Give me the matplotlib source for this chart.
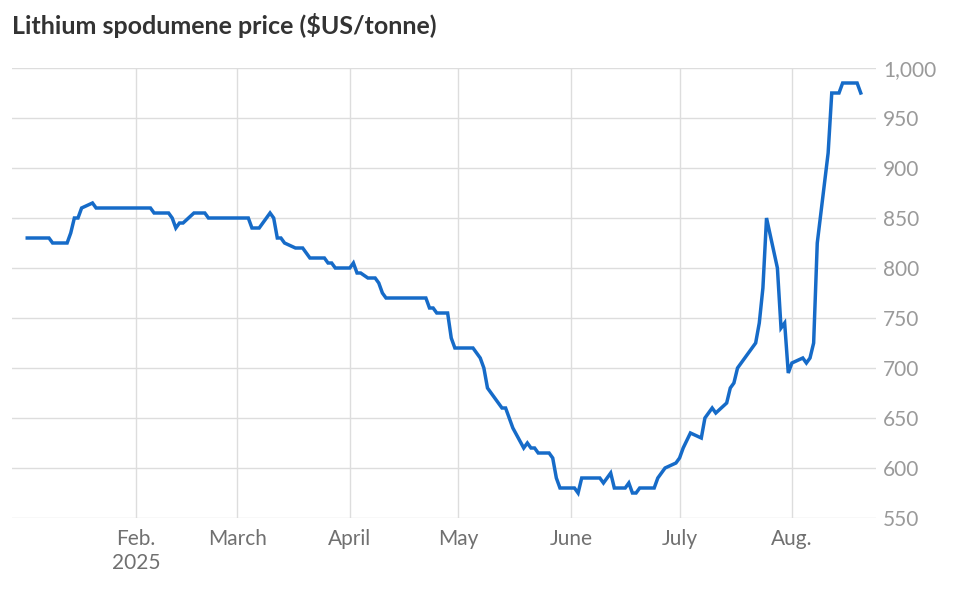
import pandas as pd
import matplotlib.pyplot as plt
import matplotlib.ticker as mticker

# Price points (dates where the line turns)
dates = [
    "2025-01-02", "2025-01-08", "2025-01-09", "2025-01-13", "2025-01-14", "2025-01-15",
    "2025-01-16", "2025-01-17", "2025-01-20", "2025-01-21", "2025-02-05", "2025-02-06",
    "2025-02-10", "2025-02-11", "2025-02-12", "2025-02-13", "2025-02-14", "2025-02-17",
    "2025-02-20", "2025-02-21", "2025-03-04", "2025-03-05", "2025-03-07", "2025-03-10",
    "2025-03-11", "2025-03-12", "2025-03-13", "2025-03-14", "2025-03-17", "2025-03-19",
    "2025-03-21", "2025-03-25", "2025-03-26", "2025-03-27", "2025-03-28", "2025-04-01",
    "2025-04-02", "2025-04-03", "2025-04-04", "2025-04-06", "2025-04-08", "2025-04-09",
    "2025-04-10", "2025-04-11", "2025-04-22", "2025-04-23", "2025-04-24", "2025-04-25",
    "2025-04-28", "2025-04-29", "2025-04-30", "2025-05-05", "2025-05-06", "2025-05-07",
    "2025-05-08", "2025-05-09", "2025-05-13", "2025-05-14", "2025-05-16", "2025-05-19",
    "2025-05-20", "2025-05-21", "2025-05-22", "2025-05-23", "2025-05-26", "2025-05-27",
    "2025-05-28", "2025-05-29", "2025-06-02", "2025-06-03", "2025-06-04", "2025-06-09",
    "2025-06-10", "2025-06-12", "2025-06-13", "2025-06-16", "2025-06-17", "2025-06-18",
    "2025-06-19", "2025-06-20", "2025-06-24", "2025-06-25", "2025-06-27", "2025-06-30",
    "2025-07-01", "2025-07-02", "2025-07-04", "2025-07-07", "2025-07-08", "2025-07-10",
    "2025-07-11", "2025-07-14", "2025-07-15", "2025-07-16", "2025-07-17", "2025-07-22",
    "2025-07-23", "2025-07-24", "2025-07-25", "2025-07-28", "2025-07-29", "2025-07-30",
    "2025-07-31", "2025-08-01", "2025-08-04", "2025-08-05", "2025-08-06", "2025-08-07",
    "2025-08-08", "2025-08-11", "2025-08-12", "2025-08-14", "2025-08-15", "2025-08-19",
    "2025-08-20",
]
prices = [
    830, 830, 825, 825, 835, 850,
    850, 860, 865, 860, 860, 855,
    855, 850, 840, 845, 845, 855,
    855, 850, 850, 840, 840, 855,
    850, 830, 830, 825, 820, 820,
    810, 810, 805, 805, 800, 800,
    805, 795, 795, 790, 790, 785,
    775, 770, 770, 760, 760, 755,
    755, 730, 720, 720, 715, 710,
    700, 680, 660, 660, 640, 620,
    625, 620, 620, 615, 615, 610,
    590, 580, 580, 575, 590, 590,
    585, 595, 580, 580, 585, 575,
    575, 580, 580, 590, 600, 605,
    610, 620, 635, 630, 650, 660,
    655, 665, 680, 685, 700, 725,
    745, 780, 850, 800, 740, 745,
    695, 705, 710, 705, 710, 725,
    825, 915, 975, 975, 985, 985,
    975,
]

# Axis ticks and labels
month_ticks = ["2025-02-01", "2025-03-01", "2025-04-01", "2025-05-01",
               "2025-06-01", "2025-07-01", "2025-08-01"]
month_labels = ["Feb.\n2025", "March", "April", "May", "June", "July", "Aug."]
y_ticks = [550, 600, 650, 700, 750, 800, 850, 900, 950, 1000]

price = pd.Series(prices, index=pd.to_datetime(dates))

plt.rcParams['font.family'] = ['Lato', 'DejaVu Sans']

fig = plt.figure(figsize=(9.58, 6.01), dpi=100)
ax = fig.add_axes([12 / 958, 83 / 601, 864 / 958, 450 / 601])

# the price line
ax.plot(price.index, price.values, color='#166bc8', linewidth=2.5,
        solid_joinstyle='miter', clip_on=False, zorder=3)

# limits
ax.set_xlim(pd.Timestamp("2024-12-28 19:00"), pd.Timestamp("2025-08-24 05:00"))
ax.set_ylim(550, 1000)

# y axis on the right
ax.yaxis.tick_right()
ax.set_yticks(y_ticks)
ax.yaxis.set_major_formatter(mticker.FuncFormatter(lambda v, p: f"{int(v):,}"))
ax.tick_params(axis='y', length=0, pad=5, labelsize=15, labelcolor='#9a9a9a')
for lbl in ax.get_yticklabels():
    lbl.set_va('center_baseline')

# x axis month ticks
ax.set_xticks(pd.to_datetime(month_ticks))
ax.set_xticklabels(month_labels, linespacing=1.25)
ax.tick_params(axis='x', length=0, pad=8, labelsize=15, labelcolor='#707070')

# grid lines
ax.grid(True, axis='both', color='#dddddd', linewidth=1)
ax.set_axisbelow(True)
for s in ax.spines.values():
    s.set_visible(False)

# Title
fig.text(12 / 958, 1 - 25 / 601, "Lithium spodumene price ($US/tonne)",
         fontsize=18, fontweight='bold', color='#333333', va='center', ha='left')

fig.savefig("out.png", dpi=100)
